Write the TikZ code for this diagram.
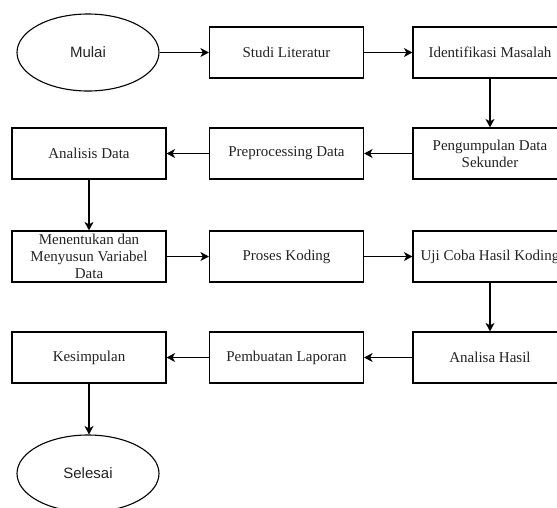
\documentclass[tikz,border=0pt]{standalone}
\usepackage{fontspec}
\setmainfont{Liberation Serif}
\newfontfamily\arialfont{Liberation Sans}
\usetikzlibrary{shapes.geometric,arrows.meta}
\definecolor{txt}{RGB}{35,35,35}
\begin{document}
\begin{tikzpicture}[x=1pt,y=-1pt,
  box/.style={draw=black,line width=1.2pt,minimum width=154pt,minimum height=51pt,inner sep=0pt,
    text=txt,font=\fontsize{15}{17}\selectfont,align=center},
  term/.style={draw=black,line width=1.1pt,ellipse,minimum width=142pt,minimum height=77pt,inner sep=0pt,
    text=txt,font=\arialfont\fontsize{15}{17}\selectfont},
  conn/.style={line width=1.2pt,-{Stealth[length=8.5pt,width=9pt,inset=2.5pt]}}]
\useasboundingbox (0,0) rectangle (557,507);
\clip (0,0) rectangle (557,507);
% row 1
\node[term] (mulai) at (88,52.5) {Mulai};
\node[box] (studi) at (286.5,52.5) {Studi Literatur};
\node[box] (ident) at (490,52.5) {Identifikasi Masalah};
% row 2
\node[box] (anal) at (89,153.5) {Analisis Data};
\node[box] (prep) at (286.5,153.5) {Preprocessing Data};
\node[box] (peng) at (490,153.5) {Pengumpulan Data\\Sekunder};
% row 3
\node[box] (menen) at (89,256.5) {Menentukan dan\\Menyusun Variabel\\Data};
\node[box] (proses) at (286.5,256.5) {Proses Koding};
\node[box] (uji) at (490,256.5) {Uji Coba Hasil Koding};
% row 4
\node[box] (kesim) at (89,357.5) {Kesimpulan};
\node[box] (pemb) at (286.5,357.5) {Pembuatan Laporan};
\node[box] (hasil) at (490,357.5) {Analisa Hasil};
\node[term] (selesai) at (88,473.5) {Selesai};
% connectors
\draw[conn] (mulai) -- (studi);
\draw[conn] (studi) -- (ident);
\draw[conn] (ident) -- (peng);
\draw[conn] (peng) -- (prep);
\draw[conn] (prep) -- (anal);
\draw[conn] (anal) -- (menen);
\draw[conn] (menen) -- (proses);
\draw[conn] (proses) -- (uji);
\draw[conn] (uji) -- (hasil);
\draw[conn] (hasil) -- (pemb);
\draw[conn] (pemb) -- (kesim);
\draw[conn] (kesim.south) -- (kesim.south |- selesai.north);
\end{tikzpicture}
\end{document}
